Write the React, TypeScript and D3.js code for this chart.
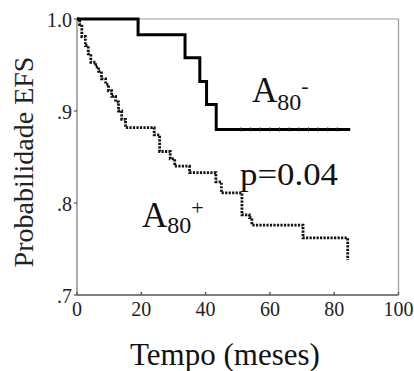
import React from "react";
import * as d3 from "d3";

// A80- group (solid): step times and survival after step
const negTimes = [0, 19, 33.6, 38.2, 40.3, 43.3, 85];
const negSurv = [1.0, 0.983, 0.958, 0.932, 0.907, 0.880, 0.880];
const negCensor = [51, 54, 57, 60, 63, 66, 69, 72, 75, 78, 81];

// A80+ group (dotted)
const posTimes = [0, 0.8, 1.5, 2.6, 3.5, 4.3, 5.8, 6.7, 7.6, 8.9, 9.8, 10.8, 12.0, 12.9, 13.9, 15.1, 24.0, 25.7, 29.0, 30.4, 35.0, 43.2, 44.9, 51.3, 53.6, 54.4, 70.3, 84.2];
const posSurv = [1.0, 0.994, 0.981, 0.971, 0.962, 0.953, 0.948, 0.943, 0.935, 0.929, 0.922, 0.916, 0.910, 0.900, 0.891, 0.882, 0.874, 0.856, 0.848, 0.840, 0.833, 0.823, 0.811, 0.787, 0.784, 0.776, 0.762, 0.738];

const xTicks = [0, 20, 40, 60, 80, 100];
const yTicks = [1.0, 0.9, 0.8, 0.7];
const yTickLabels = ["1.0", ".9", ".8", ".7"];

export default function App() {
  const W = 414, H = 371;
  const x = d3.scaleLinear().domain([0, 100]).range([77, 398.5]);
  const y = d3.scaleLinear().domain([0.7, 1.0]).range([295, 19]);
  const line = d3.line<[number, number]>().x(d => x(d[0])).y(d => y(d[1])).curve(d3.curveStepAfter);
  const negPts = negTimes.map((t, i) => [t, negSurv[i]] as [number, number]);
  const posPts = posTimes.map((t, i) => [t, posSurv[i]] as [number, number]);
  const serif = "'Liberation Serif', 'DejaVu Serif', serif";
  const x0 = x(0), x1 = x(100), y0 = y(0.7), y1 = y(1.0);
  return (
    <svg width={W} height={H} style={{ position: "absolute", left: 0, top: 0, background: "#fff" }} fontFamily={serif}>
      {/* frame */}
      <line x1={x0} x2={x1} y1={y1} y2={y1} stroke="#999" strokeWidth={1.2} />
      <line x1={x1} x2={x1} y1={y1} y2={y0} stroke="#999" strokeWidth={1.2} />
      <line x1={x0} x2={x0} y1={y1} y2={y0} stroke="#777" strokeWidth={1.2} />
      <line x1={x0} x2={x1} y1={y0} y2={y0} stroke="#555" strokeWidth={1.4} />
      {yTicks.map((v, i) => (
        <g key={"y" + i}>
          <line x1={x0 - 3} x2={x0} y1={y(v)} y2={y(v)} stroke="#555" strokeWidth={1.2} />
          <text x={x0 - 5} y={y(v) + 1} textAnchor="end" dominantBaseline="central" fontSize={20} fill="#222">{yTickLabels[i]}</text>
        </g>
      ))}
      {xTicks.map((v, i) => (
        <g key={"x" + i}>
          <line x1={x(v)} x2={x(v)} y1={y0} y2={y0 - 3} stroke="#555" strokeWidth={1.4} />
          <text x={x(v)} y={y0 + 21} textAnchor="middle" fontSize={20} fill="#222">{v}</text>
        </g>
      ))}
      <text x={225} y={365} textAnchor="middle" fontSize={31} fill="#111">Tempo (meses)</text>
      <text transform={`translate(33,162) rotate(-90)`} textAnchor="middle" fontSize={28} fill="#222">Probabilidade EFS</text>

      {/* curves */}
      <path d={line(posPts) || ""} fill="none" stroke="#111" strokeWidth={2.8} strokeDasharray="2.2 1.3" />
      <path d={line(negPts) || ""} fill="none" stroke="#000" strokeWidth={3} strokeLinejoin="miter" />
      {negCensor.map((t, i) => (
        <line key={"c" + i} x1={x(t)} x2={x(t)} y1={y(0.880) - 2.2} y2={y(0.880) + 2.2} stroke="#333" strokeWidth={0.8} />
      ))}

      {/* annotations */}
      <text x={252} y={102} fontSize={35} fill="#111">A<tspan fontSize={24} dy={8}>80</tspan><tspan fontSize={22} dy={-17}>-</tspan></text>
      <text x={142} y={227} fontSize={35} fill="#111">A<tspan fontSize={24} dy={6}>80</tspan><tspan fontSize={22} dy={-18}>+</tspan></text>
      <text x={240} y={185} fontSize={31} textLength={98} lengthAdjust="spacingAndGlyphs" fill="#111">p=0.04</text>
    </svg>
  );
}
